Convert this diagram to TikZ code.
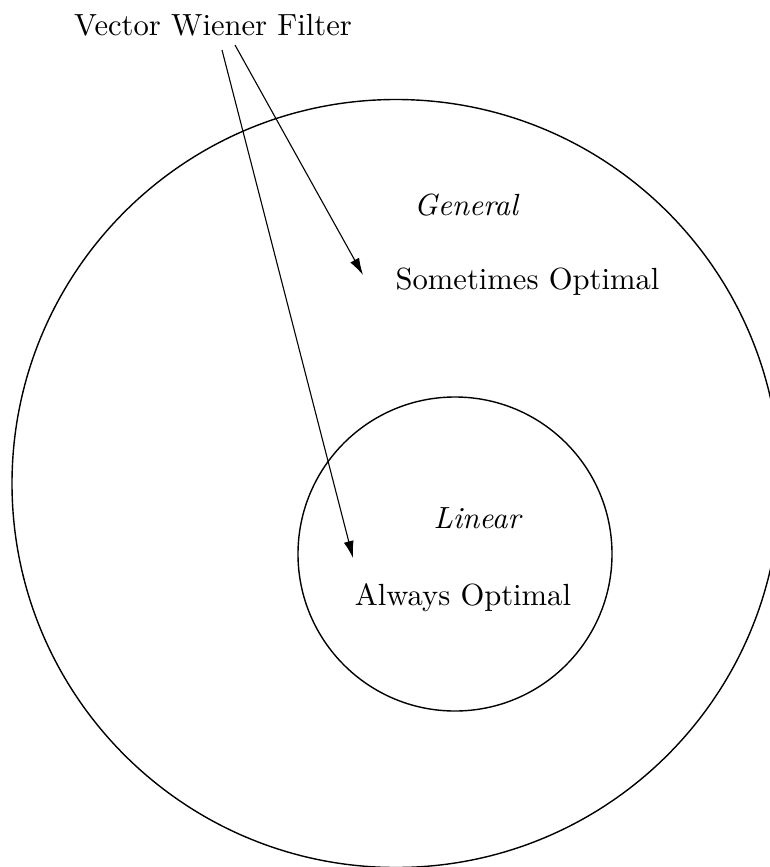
\documentclass[tikz,border=0pt]{standalone}
\usepackage{fontspec}
\setmainfont{lmroman10-regular}[Extension=.otf, ItalicFont=lmroman10-italic]
\usetikzlibrary{arrows.meta}
\begin{document}
\begin{tikzpicture}[x=0.5pt,y=-0.5pt,
  lbl/.style={inner sep=0pt, anchor=base, font=\fontsize{15.3}{18}\selectfont},
  ring/.style={draw, circle, inner sep=0pt, line width=0.7pt},
  pointer/.style={line width=0.55pt, -{Latex[length=8.5pt,width=5pt]}}]
\useasboundingbox (0,0) rectangle (770,867);
\node[ring, minimum size=384pt] (general) at (396,483.5) {};
\node[ring, minimum size=157pt] (linear) at (455,554) {};
\node[lbl] (vwf) at (213,35) {Vector Wiener Filter};
\node[lbl] (gen) at (466,215) {\itshape General};
\node[lbl] (some) at (527.5,289) {Sometimes Optimal};
\node[lbl] (lin) at (477,528) {\itshape Linear};
\node[lbl] (always) at (463,605) {Always Optimal};
\coordinate (s1) at (222,50);
\coordinate (s2) at (235,45);
\coordinate (t1) at (353,558);
\coordinate (t2) at (363,275);
\draw[pointer] (s1) -- (t1);
\draw[pointer] (s2) -- (t2);
\end{tikzpicture}
\end{document}
